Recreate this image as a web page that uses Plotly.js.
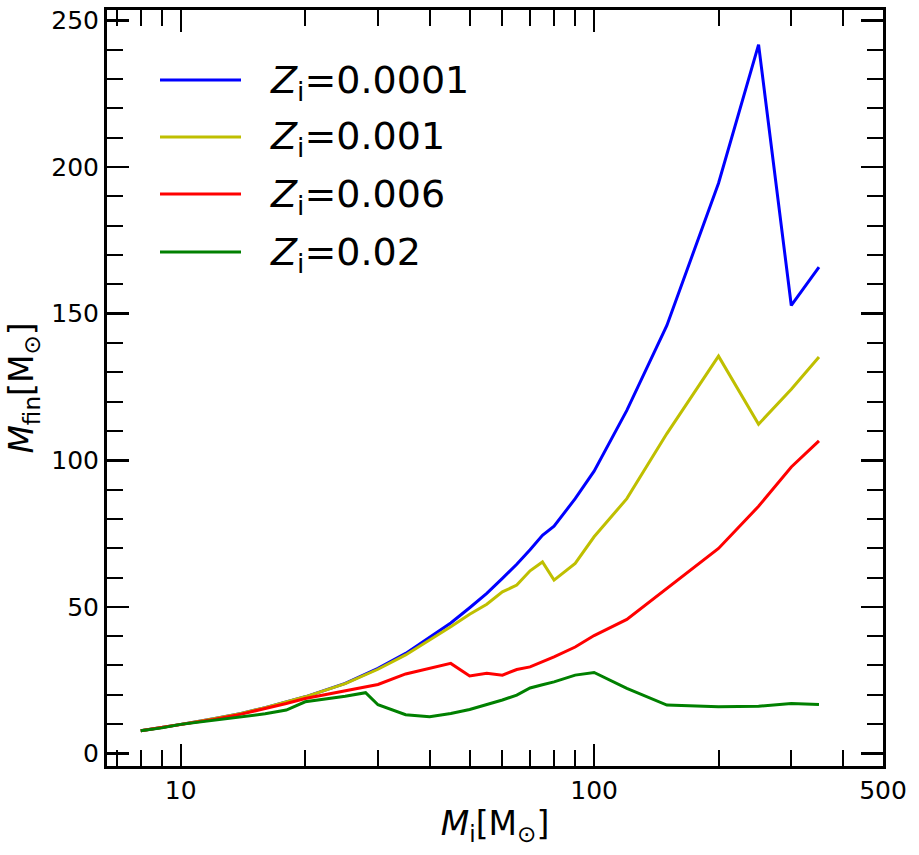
<!DOCTYPE html>
<html>
<head>
<meta charset="utf-8">
<script src="https://cdn.plot.ly/plotly-3.0.1.min.js"></script>
<style>html,body{margin:0;padding:0;background:#fff;}#chart{width:919px;height:855px;}</style>
</head>
<body>
<div id="chart"></div>
<script>
// Initial mass grid (Msun)
var massGrid = [8, 9, 10, 12, 14, 16, 18, 20, 25, 30, 35, 40, 45, 50, 55, 60, 65, 70, 75, 80, 90, 100, 120, 150, 200, 250, 300, 350];
var massGridZ02 = [8, 9, 10, 12, 14, 16, 18, 20, 25, 28, 30, 35, 40, 45, 50, 55, 60, 65, 70, 75, 80, 90, 100, 120, 150, 200, 250, 300, 350];

// Final masses (Msun)
var mfinZ0001 = [7.7, 8.8, 9.9, 11.8, 13.6, 15.6, 17.5, 19.3, 23.9, 29.0, 34.1, 39.5, 44.5, 49.7, 54.6, 59.7, 64.5, 69.5, 74.4, 77.5, 86.9, 96.3, 117.0, 146.0, 194.5, 241.8, 152.8, 165.9];
var mfinZ001  = [7.7, 8.8, 9.9, 11.8, 13.6, 15.6, 17.5, 19.3, 23.8, 28.7, 33.6, 38.6, 43.2, 47.5, 50.9, 55.1, 57.4, 62.3, 65.3, 59.1, 64.8, 73.9, 86.9, 109.1, 135.5, 112.3, 124.2, 135.2];
var mfinZ006  = [7.7, 8.8, 9.9, 11.6, 13.4, 15.2, 17.0, 18.7, 21.2, 23.5, 27.1, 28.9, 30.7, 26.4, 27.3, 26.7, 28.6, 29.5, 31.2, 32.9, 36.3, 40.2, 45.7, 56.3, 69.9, 84.3, 97.7, 106.6];
var mfinZ02   = [7.7, 8.7, 9.9, 11.3, 12.5, 13.5, 14.8, 17.6, 19.5, 20.7, 16.6, 13.2, 12.5, 13.6, 15.0, 16.6, 18.2, 19.9, 22.3, 23.4, 24.4, 26.7, 27.6, 22.2, 16.5, 15.9, 16.1, 17.0, 16.7];

var seriesNames = ['<i>Z</i><sub>i</sub>=0.0001', '<i>Z</i><sub>i</sub>=0.001', '<i>Z</i><sub>i</sub>=0.006', '<i>Z</i><sub>i</sub>=0.02'];
var seriesColors = ['#0000ff', '#bfbf00', '#ff0000', '#008000'];

var xTickVals = [10, 100, 500];
var xTickText = ['10', '100', '500'];
var xMinorVals = [7, 8, 9, 20, 30, 40, 50, 60, 70, 80, 90, 200, 300, 400];

var xs = [massGrid, massGrid, massGrid, massGridZ02];
var ys = [mfinZ0001, mfinZ001, mfinZ006, mfinZ02];

var traces = ys.map(function(y, i) {
  return {
    x: xs[i], y: y, type: 'scatter', mode: 'lines', name: seriesNames[i],
    line: {color: seriesColors[i], width: 3}, showlegend: false
  };
});

// Plot area in pixels
var L = 107, R = 883, T = 10, B = 766, W = 919, H = 855;
function px2paperX(p) { return (p - L) / (R - L); }
function px2paperY(p) { return (B - p) / (B - T); }

var legendY = [80, 137, 194, 252];
var shapes = [], annotations = [];
legendY.forEach(function(py, i) {
  shapes.push({type: 'line', xref: 'paper', yref: 'paper',
    x0: px2paperX(160), x1: px2paperX(241), y0: px2paperY(py), y1: px2paperY(py),
    line: {color: seriesColors[i], width: 3}});
  annotations.push({xref: 'paper', yref: 'paper', x: px2paperX(268), y: px2paperY(py + 2),
    xanchor: 'left', yanchor: 'middle', showarrow: false, text: seriesNames[i],
    font: {family: 'DejaVu Sans', size: 38, color: '#000'}});
});

var layout = {
  width: W, height: H,
  margin: {l: L, r: W - R, t: T, b: H - B, pad: 0},
  paper_bgcolor: '#fff', plot_bgcolor: '#fff',
  font: {family: 'DejaVu Sans', color: '#000'},
  showlegend: false,
  xaxis: {
    type: 'log', range: [Math.log10(6.63), Math.log10(500)],
    tickmode: 'array', tickvals: xTickVals, ticktext: xTickText,
    ticks: 'inside', ticklen: 22, tickwidth: 2.5, tickcolor: '#000',
    minor: {tickmode: 'array', tickvals: xMinorVals, ticks: 'inside', ticklen: 16, tickwidth: 2, tickcolor: '#000', showgrid: false},
    showline: true, linewidth: 3, linecolor: '#000', mirror: 'ticks',
    showgrid: false, zeroline: false,
    tickfont: {size: 25, family: 'DejaVu Sans'},
    title: {text: '<i>M</i><sub>i</sub>[M<sub>⊙</sub>]', font: {size: 33, family: 'DejaVu Sans'}, standoff: 8}
  },
  yaxis: {
    range: [-4.3, 253.6],
    tickmode: 'linear', tick0: 0, dtick: 50,
    ticks: 'inside', ticklen: 22, tickwidth: 2.5, tickcolor: '#000',
    minor: {dtick: 10, tick0: 0, ticks: 'inside', ticklen: 16, tickwidth: 2, tickcolor: '#000', showgrid: false},
    showline: true, linewidth: 3, linecolor: '#000', mirror: 'ticks',
    showgrid: false, zeroline: false,
    tickfont: {size: 25, family: 'DejaVu Sans'},
    title: {text: '<i>M</i><sub>fin</sub>[M<sub>⊙</sub>]', font: {size: 33, family: 'DejaVu Sans'}, standoff: 8}
  },
  shapes: shapes,
  annotations: annotations
};

Plotly.newPlot('chart', traces, layout, {displayModeBar: false, staticPlot: true});
</script>
</body>
</html>
